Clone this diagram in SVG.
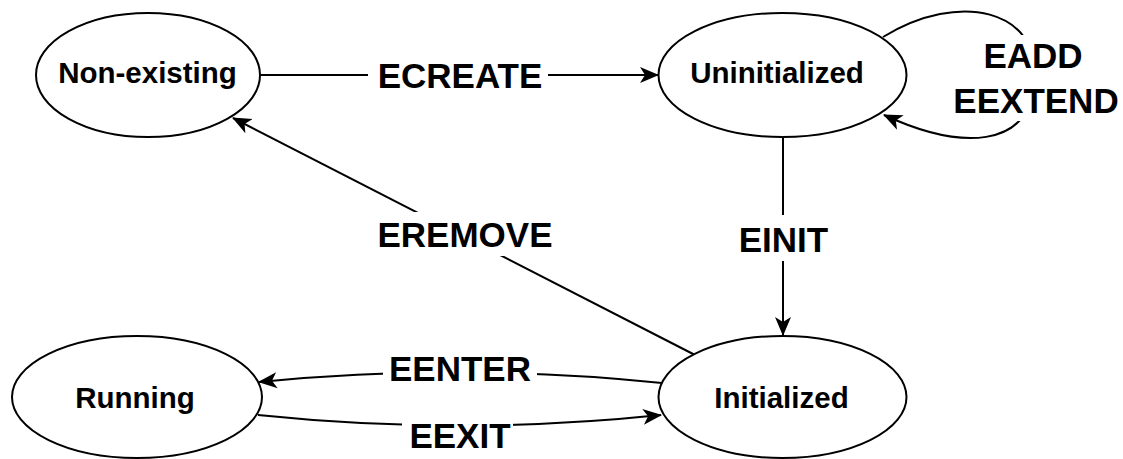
<svg xmlns="http://www.w3.org/2000/svg" width="1123" height="459" viewBox="0 0 1123 459">
<style>
.node{fill:#fff;stroke:#000;stroke-width:2}
.nt{font-family:"Liberation Sans",Arial,sans-serif;font-weight:bold;font-size:29.5px;text-anchor:middle;fill:#000}
.lt{font-family:"Liberation Sans",Arial,sans-serif;font-weight:bold;font-size:35px;text-anchor:middle;fill:#000}
.edge{fill:none;stroke:#000;stroke-width:2}
.bg{fill:#fff}
</style>
<defs>
<marker id="arr" markerUnits="userSpaceOnUse" markerWidth="20" markerHeight="20" refX="18" refY="9" orient="auto" viewBox="0 0 20 18">
<path d="M0,1 L19,9 L0,17 L5,9 Z" fill="#000"/>
</marker>
</defs>
<rect width="1123" height="459" fill="#fff"/>
<g id="connectors">
<g id="e-create"><path class="edge" d="M261 75 L658 75" marker-end="url(#arr)"/><rect class="bg" x="368" y="58" width="180" height="38"/><text class="lt" x="460" y="88">ECREATE</text></g>
<g id="e-loop"><path class="edge" d="M883 37 C960 -10 1040 10 1035 80 C1030 150 960 150 884 115" marker-end="url(#arr)"/><rect class="bg" x="950" y="35" width="173" height="86"/><text class="lt" x="1033" y="68">EADD</text><text class="lt" x="1036" y="113">EEXTEND</text></g>
<g id="e-remove"><path class="edge" d="M695 355 L233 118" marker-end="url(#arr)"/><rect class="bg" x="370" y="212" width="190" height="44"/><text class="lt" x="465" y="247">EREMOVE</text></g>
<g id="e-init"><path class="edge" d="M783 137 L783 335" marker-end="url(#arr)"/><rect class="bg" x="735" y="215" width="97" height="46"/><text class="lt" x="783.5" y="252">EINIT</text></g>
<g id="e-enter"><path class="edge" d="M662 383 Q460 362 259 382" marker-end="url(#arr)"/><rect class="bg" x="383" y="350" width="154" height="38"/><text class="lt" x="460" y="381">EENTER</text></g>
<g id="e-exit"><path class="edge" d="M258 415 Q460 436 661 415" marker-end="url(#arr)"/><rect class="bg" x="402" y="417" width="111" height="38"/><text class="lt" x="460" y="448">EEXIT</text></g>
</g>
<g id="n-nonexisting"><ellipse class="node" cx="148" cy="75" rx="112" ry="62"/><text class="nt" x="147.5" y="83">Non-existing</text></g>
<g id="n-uninitialized"><ellipse class="node" cx="782.5" cy="75" rx="124" ry="62"/><text class="nt" x="777" y="83">Uninitialized</text></g>
<g id="n-running"><ellipse class="node" cx="137" cy="397" rx="125" ry="61"/><text class="nt" x="135" y="408">Running</text></g>
<g id="n-initialized"><ellipse class="node" cx="782.5" cy="397" rx="124" ry="61"/><text class="nt" x="781.5" y="408">Initialized</text></g>
</svg>
